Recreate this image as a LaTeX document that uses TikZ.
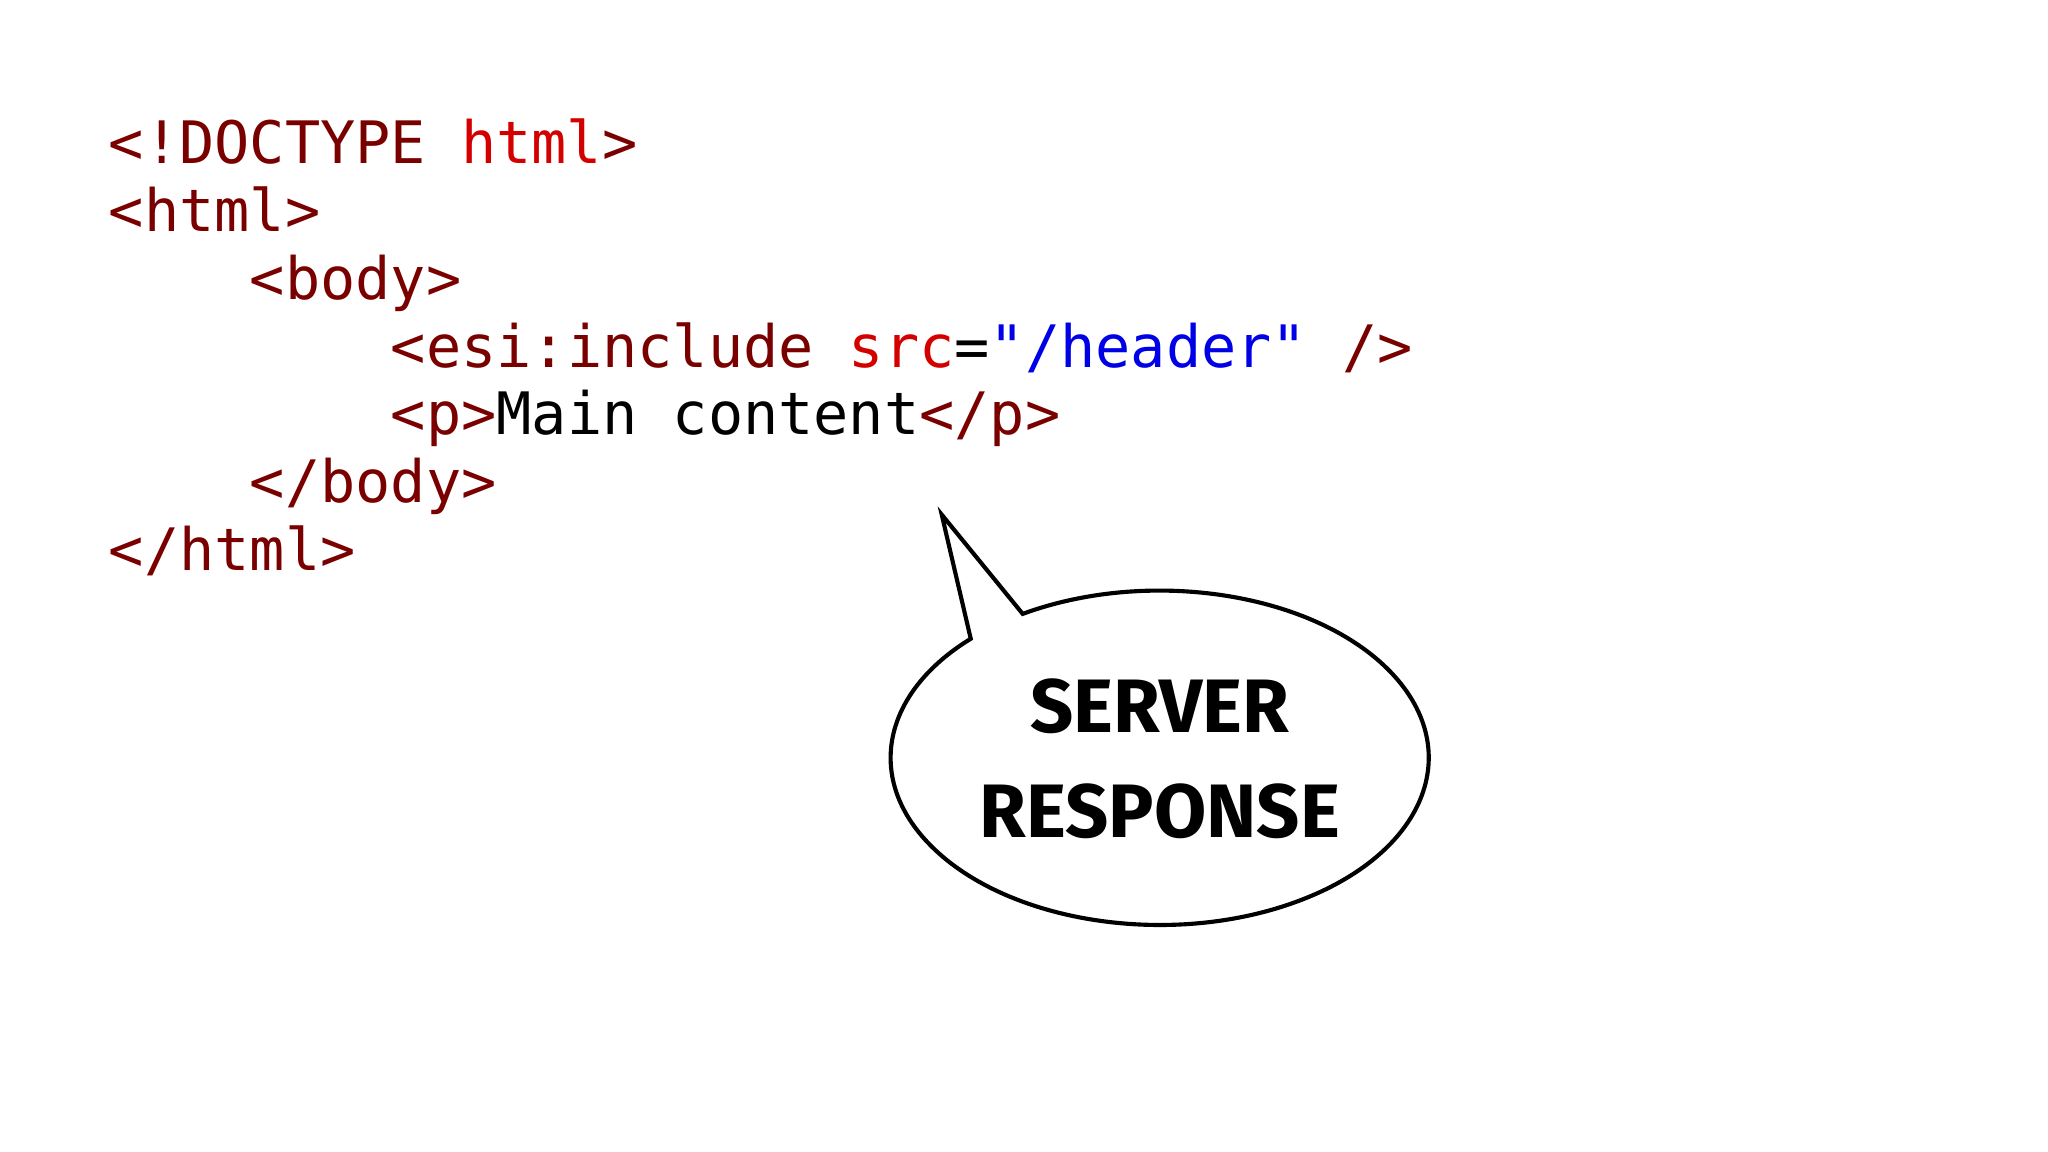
\documentclass[tikz,border=0pt]{standalone}
\usepackage{fontspec}
\setmonofont{DejaVu Sans Mono}
\newfontfamily\boldsans{Fira Sans}
\definecolor{tag}{HTML}{7A0000}
\definecolor{attr}{HTML}{D40000}
\definecolor{str}{HTML}{0000E6}
\begin{document}
\begin{tikzpicture}[x=0.02cm,y=-0.02cm]
\tikzset{code/.style={anchor=base west,inner sep=0,font=\ttfamily\fontsize{25.5}{30}\selectfont}}
\useasboundingbox (0,0) rectangle (1568,882);
\fill[white] (0,0) rectangle (1568,882);
\node[code] (l1) at (83,125) {\color{tag}<!DOCTYPE \color{attr}html\color{tag}>};
\node[code] (l2) at (83,177) {\color{tag}<html>};
\node[code] (l3) at (191,229) {\color{tag}<body>};
\node[code] (l4) at (299,281) {\color{tag}<esi:include \color{attr}src\color{black}=\color{str}"/header" \color{tag}/>};
\node[code] (l5) at (299,333) {\color{tag}<p>\color{black}Main content\color{tag}</p>};
\node[code] (l6) at (191,385) {\color{tag}</body>};
\node[code] (l7) at (83,437) {\color{tag}</html>};
\coordinate (tip) at (721,394);
\draw[line width=1.8pt,fill=white,line join=miter]
  (783,470) arc[start angle=239.4, end angle=585.4, x radius=206, y radius=128] -- (tip) -- cycle;
\node[align=center,font=\boldsans\bfseries\fontsize{33}{36}\selectfont,inner sep=0] (lbl) at (888,581) {SERVER\\[0.3em]RESPONSE};
\end{tikzpicture}
\end{document}
